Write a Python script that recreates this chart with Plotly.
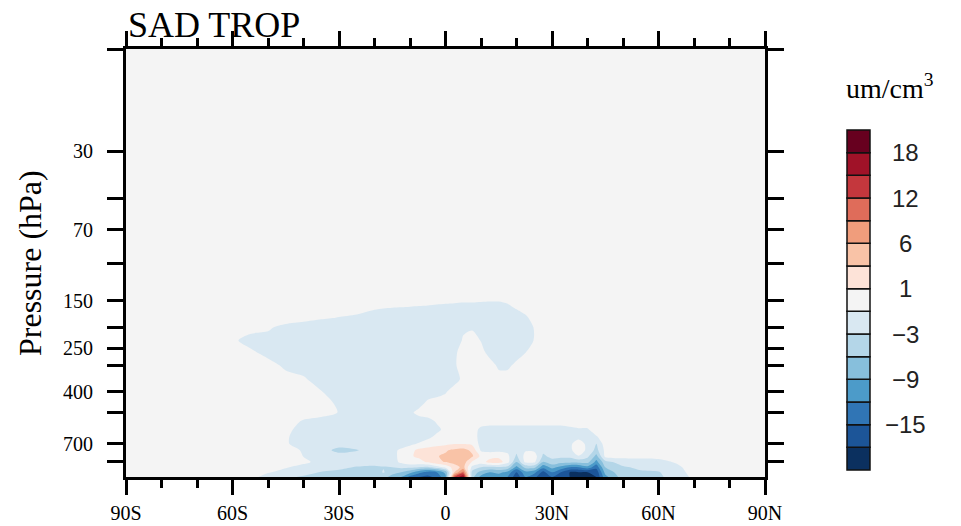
import numpy as np
import plotly.graph_objects as go

# ---------------- data ----------------
LATS = [-90, -85, -80, -75, -70, -65, -60, -55, -50, -45, -40, -35, -30, -25,
        -20, -17.5, -15, -12.5, -10, -7.5, -5, -2.5, 0, 2.5, 5, 7.5, 10, 12.5, 15, 17.5,
        20, 22.5, 25, 27.5, 30, 32.5, 35, 37.5, 40, 42.5, 45,
        50, 55, 60, 65, 70, 75, 80, 85, 90]

PLEVS = [10, 100, 140, 160, 180, 200, 230, 260, 300, 350, 400, 450, 500, 550,
         600, 650, 700, 750, 800, 850, 900, 950, 1000]

Z0 = [0] * 14
N0 = [0] * 9

SAD_10 = [0] * 50
SAD_100 = [0] * 50
SAD_140 = [0] * 50
SAD_160 = Z0 + [-0.6, -0.8, -0.9, -0.95, -1.0, -1.05, -1.1, -1.2, -1.3, -1.4, -1.5, -1.5, -1.6,
                -1.7, -1.7, -1.3, -0.7, 0.3, 0, 0, 0, 0, 0, 0, 0, 0, 0] + N0
SAD_180 = [0, 0, 0, 0, 0, 0, 0, 0, 0, 0.9, -0.25, -0.79, -1.05, -1.39] + \
          [-2] * 17 + [-1.5, 0, 0, 0, 0, 0, 0, 0, 0, 0] + N0
SAD_200 = [0, 0, 0, 0, 0, 0, 0, 0, -0.57, -2, -2, -2, -2, -2] + \
          [-2] * 10 + [-1.3, -1.3] + [-2] * 6 + [-0.9, 0, 0, 0, 0, 0, 0, 0, 0] + N0
SAD_230 = [0, 0, 0, 0, 0, 0, -0.5, -2, -2, -2, -2, -2, -2, -2] + \
          [-2] * 10 + [-0.8, 0, -1.1, -2, -2, -2, -2, -2, -0.9, 0, 0, 0, 0, 0, 0, 0, 0] + N0
SAD_260 = [0, 0, 0, 0, 0, 0, 0, -0.53, -2, -2, -2, -2, -2, -2] + \
          [-2] * 9 + [-1.5, 0, 0, -0.2, -2, -2, -2, -2, -1.1, 0, 0, 0, 0, 0, 0, 0, 0, 0] + N0
SAD_300 = [0, 0, 0, 0, 0, 0, 0, 0, 0, -1.6, -2, -2, -2, -2] + \
          [-2] * 9 + [-1.3, 0, 0, 0, 0, -1.5, -1.5, -0.5, 0, 0, 0, 0, 0, 0, 0, 0, 0, 0] + N0
SAD_350 = [0, 0, 0, 0, 0, 0, 0, 0, 0, 0, -0.7, -2, -2, -2] + \
          [-2] * 9 + [-1.8, -0.5] + [0] * 16 + N0
SAD_400 = [0, 0, 0, 0, 0, 0, 0, 0, 0, 0, 0, -0.9, -2, -2] + \
          [-2] * 8 + [-1.2] + [0] * 18 + N0
SAD_450 = [0, 0, 0, 0, 0, 0, 0, 0, 0, 0, 0, 0, -1.5, -2] + \
          [-2] * 5 + [-1.8, -0.6] + [0] * 20 + N0
SAD_500 = [0, 0, 0, 0, 0, 0, 0, 0, 0, 0, 0, 0, -1.1, -2] + \
          [-2] * 4 + [-1.4, -0.4] + [0] * 21 + N0
SAD_550 = [0, 0, 0, 0, 0, 0, 0, 0, 0, 0, -1.25, -2, -2, -2] + \
          [-2] * 6 + [-1.8, -0.8] + [0] * 19 + N0
SAD_600 = [0, 0, 0, 0, 0, 0, 0, 0, 0, -0.33, -2, -2, -2, -2] + \
          [-2] * 7 + [-1.5, -0.5, 0, 0, 0, -1.5] + [-2] * 9 + [-1.5, -1.2, -1.2, 0, 0] + N0
SAD_650 = [0, 0, 0, 0, 0, 0, 0, 0, 0, -0.75, -2, -2, -2, -2] + \
          [-2] * 6 + [-1.5, -0.5, 0, 0, 0, 0, -1.7] + [-2] * 10 + [-1.6, -1.8, -1.2, 0] + N0
SAD_700 = [0, 0, 0, 0, 0, 0, 0, 0, 0, -0.75, -2, -2, -2, -2] + \
          [-2, -2, -2, -2, -1.5, -0.8, 0, 0.3, 0.5, 0.9, 0.9, 0.6, -1.7, -2, -2, -2, -2.2,
           -1.8, -1.8, -2, -2, -2, -1.4, 0, -1.5, -3, 0] + N0
SAD_750 = [0, 0, 0, 0, 0, 0, 0, 0, 0, 0, -1.25, -2, -4.1, -3.2] + \
          [-2, -2, -1.6, -0.6, 0.3, 1.5, 1.8, 2.2, 2.8, 3.6, 4.2, 2.5, -1.3, -1.6, -1.5, -1.5,
           -2.5, -1.2, -1.3, -2.5, -2.2, -2, -1.4, 0, -1.4, -4, -0.5] + N0
SAD_800 = [0, 0, 0, 0, 0, 0, 0, 0, 0, 0, -1.05, -2, -2, -2] + \
          [-2, -2, -1.6, -0.5, 0.8, 1.3, 1.8, 2.9, 3.4, 4.5, 5.2, 3.5, 0.5, 0.3, 0.5, -0.5,
           -3.5, -0.3, 0, -3.5, -2.5, -2.5, -2.5, -1.1, -2.5, -7, -0.5] + \
          [-0.4, -0.5, -0.4, -0.2, 0, 0, 0, 0, 0]
SAD_850 = [0, 0, 0, 0, 0, 0, 0, 0, 0, 0, -0.33, -2, -2, -2] + \
          [-2.2, -2, -1.8, -0.6, 0.5, 0.5, 1.2, 2.5, 3.2, 4.2, 4.6, 0.8, 0, 1.8, 2.0, -0.2,
           -6, -0.5, -0.5, -6, -4, -5, -5, -5, -5, -10, -4] + \
          [-2, -1.8, -1.6, -0.8, 0, 0, 0, 0, 0]
SAD_900 = [0, 0, 0, 0, 0, 0, 0, 0, 0, -0.75, -2, -2, -2.6, -3.2] + \
          [-3.5, -3.2, -3, -2.5, -2.5, -3, -3.5, -2, -0.5, 2, 4, -1.5, -3, -3.5, -3.5, -4,
           -10, -5, -5, -11, -8, -10, -12, -12, -10, -14, -6] + \
          [-3.5, -2.5, -2.3, -1.5, 0, 0, 0, 0, 0]
SAD_950 = [0, 0, 0, 0, 0, 0, 0, 0, -0.75, -2, -2.2, -3.2, -3.6, -3.8] + \
          [-5, -2.8, -5, -6, -8, -11, -13, -12, -8, 3, 10, -4, -7, -9, -8, -10,
           -15, -10, -11, -16, -12, -15, -18, -19, -18, -17, -8] + \
          [-4, -3.5, -3.2, -1.8, -0.3, 0, 0, 0, 0]
SAD_1000 = [0, 0, 0, 0, 0, 0, 0, 0, -2.2, -2.6, -3.4, -3.6, -4.5, -5.2] + \
           [-4.2, -5, -7, -9, -13, -15, -16, -14, -10, 12, 20, -5, -10, -12, -11, -12,
            -17, -12, -14, -18, -15, -17, -20, -21, -20, -19, -10] + \
           [-4.5, -4, -3.5, -2.2, -0.53, 0, 0, 0, 0]

SAD = [SAD_10, SAD_100, SAD_140, SAD_160, SAD_180, SAD_200, SAD_230, SAD_260, SAD_300,
       SAD_350, SAD_400, SAD_450, SAD_500, SAD_550, SAD_600, SAD_650, SAD_700, SAD_750,
       SAD_800, SAD_850, SAD_900, SAD_950, SAD_1000]

# Below-ground (missing) region over Antarctica
MASK_LAT_EDGES = [-90, -75.5, -73.1, -71.3]
MASK_P_EDGES = [700, 772, 855, 1000]
MASK = [[1, None, None],
        [1, 1, None],
        [1, 1, 1]]

LEVELS = [-18, -15, -12, -9, -6, -3, -1, 1, 3, 6, 9, 12, 15, 18]
COLORS = ["#0b305f", "#1c5598", "#3075b5", "#4c9bc9", "#87bfdc", "#b4d6e8", "#d9e8f2",
          "#f4f4f4", "#fde3d8", "#f9c3a7", "#f09d7c", "#df6c5a", "#c4373d", "#a01228",
          "#67001f"]
CBAR_LABELS = ["\u221215", "\u22129", "\u22123", "1", "6", "12", "18"]

XTICKS = [-90, -60, -30, 0, 30, 60, 90]
XTICKTEXT = ["90S", "60S", "30S", "0", "30N", "60N", "90N"]
YTICKS = [10, 30, 50, 70, 100, 150, 200, 250, 300, 400, 500, 700, 850]
YTICKTEXT = ["", "30", "", "70", "", "150", "", "250", "", "400", "", "700", ""]

# ---------------- build ----------------
for r in SAD:
    assert len(r) == len(LATS), len(r)

z = np.array(SAD, dtype=float)
lev_ext = [-1000] + LEVELS + [1000]
idx_ext = [-1] + list(range(len(LEVELS))) + [len(LEVELS)]
zi = np.interp(z, lev_ext, idx_ext)

nb = len(COLORS)
colorscale = [[k / (nb - 1), c] for k, c in enumerate(COLORS)]

W, H = 961, 526
ML, MR, MT, MB = 126, 10, 49, 49
PW, PH = W - ML - MR, H - MT - MB


def px_x(x):
    return (x - ML) / PW


def px_y(y):
    return (H - MB - y) / PH


SERIF = "Liberation Serif"
SANS = "Liberation Sans"

fig = go.Figure()

fig.add_trace(go.Contour(
    x=LATS, y=PLEVS, z=zi,
    colorscale=colorscale, showscale=False,
    contours=dict(start=0, end=len(LEVELS) - 1, size=1, coloring="fill", showlines=False),
    line=dict(width=0, smoothing=0.8),
    hoverinfo="skip",
))

fig.add_trace(go.Heatmap(
    x=MASK_LAT_EDGES, y=MASK_P_EDGES, z=MASK,
    colorscale=[[0, "#ffffff"], [1, "#ffffff"]], showscale=False, hoverinfo="skip",
))

# colorbar drawn as stacked boxes on its own axes
fig.add_trace(go.Bar(
    x=[0] * nb, y=[1] * nb, base=list(range(nb)), width=1,
    marker=dict(color=COLORS, line=dict(color="#111111", width=1.5)),
    xaxis="x2", yaxis="y2", showlegend=False, hoverinfo="skip",
))

# colorbar placement (pixels)
cb_x0, cb_x1, cb_y0, cb_y1 = 847, 870, 130, 470
padx, pady = 0.05, 0.1
unit_w = (cb_x1 - cb_x0)
unit_h = (cb_y1 - cb_y0) / nb
dx0 = cb_x0 - padx * unit_w
dx1 = cb_x1 + padx * unit_w
dy0 = cb_y0 - pady * unit_h
dy1 = cb_y1 + pady * unit_h

tickfont = dict(family=SERIF, size=20, color="black")

fig.update_layout(
    width=W, height=H,
    margin=dict(l=ML, r=MR, t=MT, b=MB, pad=0, autoexpand=False),
    paper_bgcolor="white", plot_bgcolor="white",
    showlegend=False,
    xaxis=dict(
        domain=[0, px_x(765)], range=[-90, 90], automargin=False,
        tickmode="array", tickvals=XTICKS, ticktext=XTICKTEXT,
        ticks="outside", ticklen=15, tickwidth=3, tickcolor="black",
        minor=dict(dtick=10, tick0=-90, ticks="outside", ticklen=8, tickwidth=2.5,
                   tickcolor="black", showgrid=False),
        showline=True, linewidth=3, linecolor="black", mirror="ticks",
        showgrid=False, zeroline=False, tickfont=tickfont, ticklabelstandoff=1,
    ),
    yaxis=dict(
        type="log", range=[3, 1], automargin=False,
        tickmode="array", tickvals=YTICKS, ticktext=YTICKTEXT,
        ticks="outside", ticklen=16, tickwidth=2.5, tickcolor="black",
        showline=True, linewidth=3, linecolor="black", mirror="ticks",
        showgrid=False, zeroline=False, tickfont=tickfont, ticklabelstandoff=10,
    ),
    xaxis2=dict(domain=[px_x(dx0), px_x(dx1)], range=[-0.5 - padx, 0.5 + padx],
                anchor="y2", visible=False, fixedrange=True, automargin=False),
    yaxis2=dict(domain=[px_y(dy1), px_y(dy0)], range=[-pady, nb + pady],
                anchor="x2", visible=False, fixedrange=True, automargin=False),
)

ann = []
ann.append(dict(text="SAD TROP", xref="paper", yref="paper", x=0, y=1,
                xanchor="left", yanchor="bottom", showarrow=False, yshift=2,
                font=dict(family=SERIF, size=36, color="black")))
ann.append(dict(text="Pressure (hPa)", xref="paper", yref="paper", x=px_x(30), y=0.5,
                xanchor="center", yanchor="middle", textangle=-90, showarrow=False,
                font=dict(family=SERIF, size=32, color="black")))
ann.append(dict(text="um/cm<sup>3</sup>", xref="paper", yref="paper", x=px_x(890), y=px_y(87),
                xanchor="center", yanchor="middle", showarrow=False,
                font=dict(family=SERIF, size=28, color="black")))
for j, lab in enumerate(CBAR_LABELS):
    lev_index = 1 + 2 * j          # index in LEVELS of this labelled boundary
    ann.append(dict(text=lab, xref="paper", yref="y2", x=px_x(905), y=lev_index + 1,
                    xanchor="center", yanchor="middle", showarrow=False,
                    font=dict(family=SANS, size=24, color="#222222")))
fig.update_layout(annotations=ann)

fig.write_html("out.html")
